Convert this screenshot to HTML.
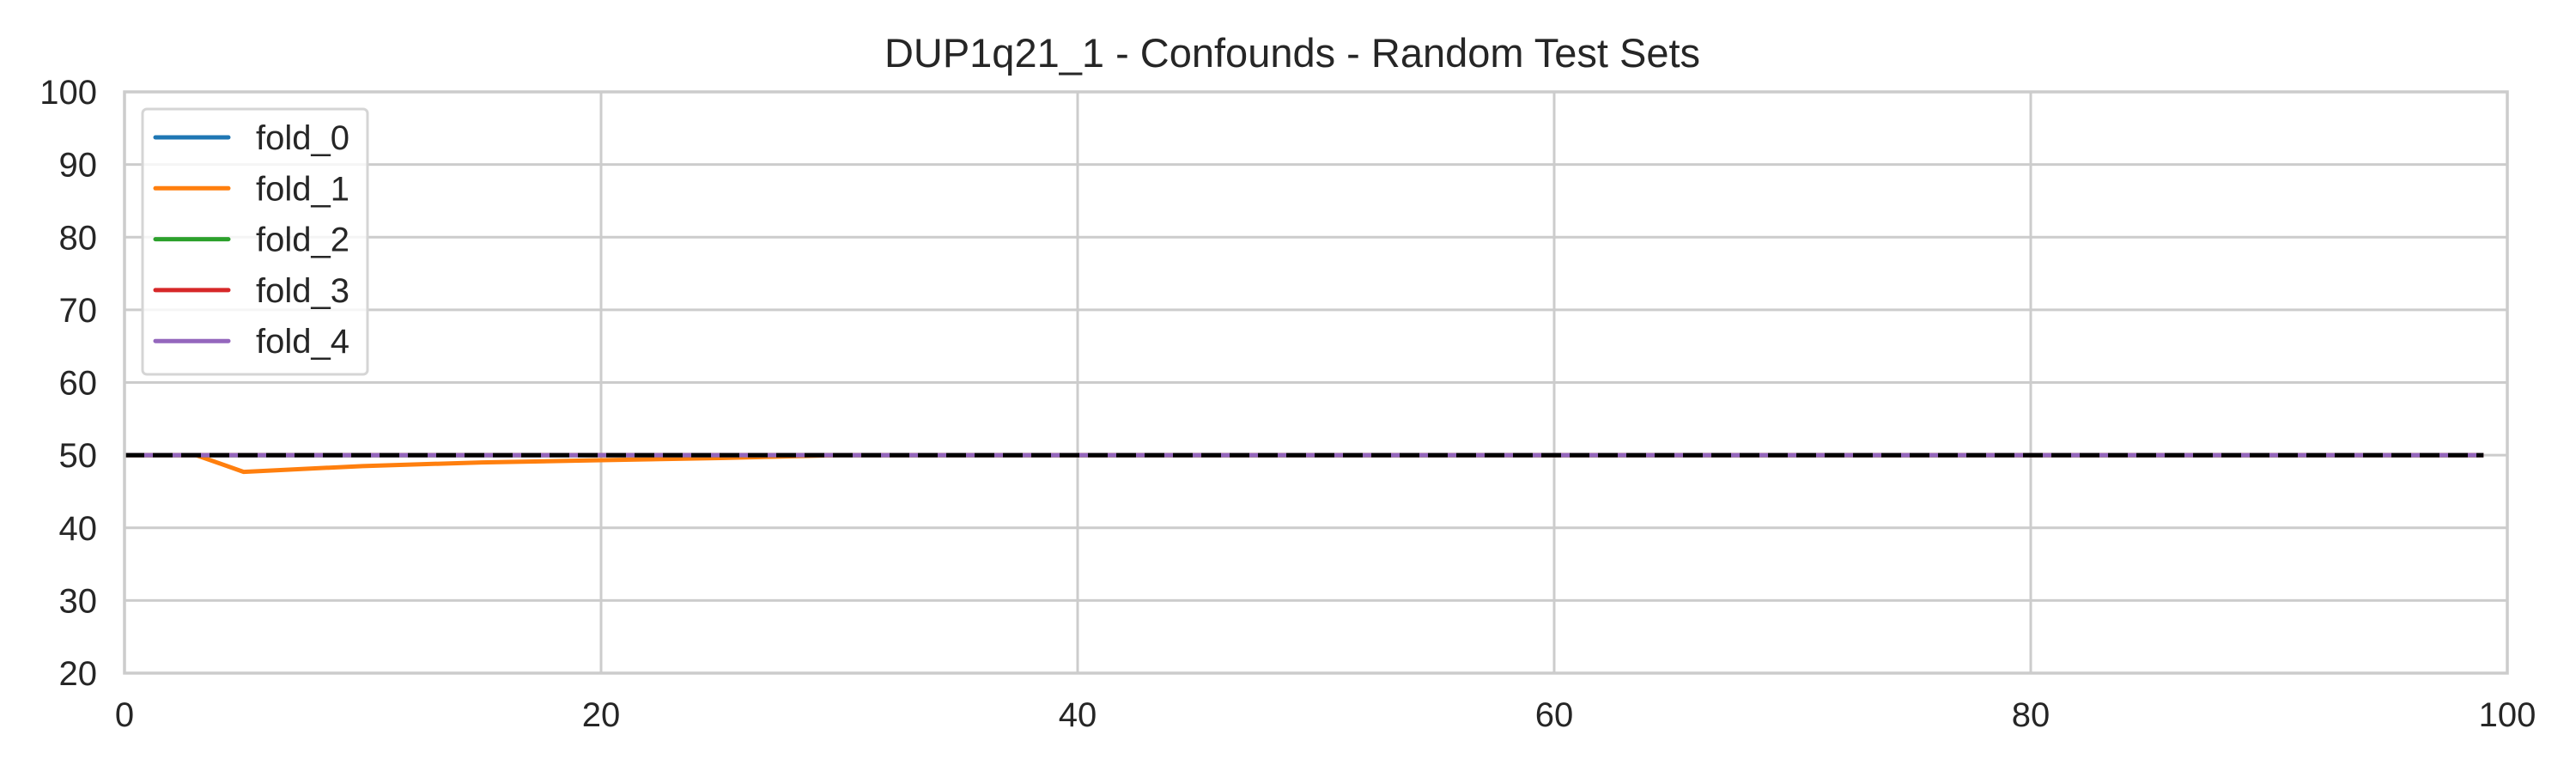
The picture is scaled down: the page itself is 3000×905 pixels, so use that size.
<!DOCTYPE html>
<html><head><meta charset="utf-8"><style>
html,body{margin:0;padding:0;background:#fff;}
svg text{font-family:"Liberation Sans",Arial,sans-serif;fill:#262626;}
</style></head><body>
<svg id="chart" width="3000" height="900" viewBox="0 0 3000 900" xmlns="http://www.w3.org/2000/svg">
<rect width="3000" height="900" fill="#fff"/>
<text x="1505" y="78" font-size="47" text-anchor="middle">DUP1q21_1 - Confounds - Random Test Sets</text>
<g id="grid"></g><g id="ticks"></g><g id="series"></g>
<rect x="145" y="107" width="2775" height="677" fill="none" stroke="#cccccc" stroke-width="3.5"/>
<g id="legend"></g>
</svg>
<script>
const xTicks=[0,20,40,60,80,100];
const yTicks=[20,30,40,50,60,70,80,90,100];
const seriesNames=["fold_0","fold_1","fold_2","fold_3","fold_4"];
const seriesColors=["#1f77b4","#ff7f0e","#2ca02c","#d62728","#9467bd"];
const fold0X=[0,99], fold0Y=[50,50];
const fold1X=[0,3,5,10,15,20,25,30,99], fold1Y=[50,50,47.7,48.5,49.0,49.3,49.6,50,50];
const fold2X=[0,99], fold2Y=[50,50];
const fold3X=[0,99], fold3Y=[50,50];
const fold4X=[0,99], fold4Y=[50,50];
const chanceX=[0,99], chanceY=[50,50];
const NS="http://www.w3.org/2000/svg";
const L=145,R=2920,T=107,B=784;
const sx=v=>L+(v-0)/(100-0)*(R-L);
const sy=v=>B-(v-20)/(100-20)*(B-T);
function mk(tag,attrs,parent){const e=document.createElementNS(NS,tag);for(const k in attrs)e.setAttribute(k,attrs[k]);parent.appendChild(e);return e;}
const grid=document.getElementById('grid'),ticks=document.getElementById('ticks'),ser=document.getElementById('series'),leg=document.getElementById('legend');
xTicks.forEach(t=>{
 const g=mk('line',{x1:sx(t),x2:sx(t),y1:T,y2:B,stroke:'#cccccc','stroke-width':3},grid);
 
 
 const tx=mk('text',{x:sx(t),y:846,'font-size':40,'text-anchor':'middle'},ticks);tx.textContent=t;
 
 
});
yTicks.forEach(t=>{
 const g=mk('line',{x1:L,x2:R,y1:sy(t),y2:sy(t),stroke:'#cccccc','stroke-width':3},grid);
 
 
 const tx=mk('text',{x:113,y:sy(t)+14,'font-size':40,'text-anchor':'end'},ticks);tx.textContent=t;
 
 
});
const allX=[fold0X,fold1X,fold2X,fold3X,fold4X],allY=[fold0Y,fold1Y,fold2Y,fold3Y,fold4Y];
allX.forEach((xs,i)=>{
 const pts=xs.map((x,j)=>sx(x)+','+sy(allY[i][j])).join(' ');
 const p=mk('polyline',{points:pts,fill:'none',stroke:seriesColors[i],'stroke-width':5,'stroke-linejoin':'round'},ser);
 
 
});
const ch=mk('polyline',{points:chanceX.map((x,j)=>sx(x)+','+sy(chanceY[j])).join(' '),fill:'none',stroke:'#000','stroke-width':5,'stroke-dasharray':'23 10'},ser);


const box=mk('rect',{x:166,y:127,width:262,height:309,rx:5,fill:'#fff','fill-opacity':0.8,stroke:'#d5d5d5','stroke-width':3},leg);


seriesNames.forEach((n,i)=>{
 const y=160+i*59.3;
 const g=mk('g',{},leg);
 
 
 mk('line',{x1:181,x2:266,y1:y,y2:y,stroke:seriesColors[i],'stroke-width':5,'stroke-linecap':'round'},g);
 const t=mk('text',{x:298,y:y+14,'font-size':40},g);t.textContent=n;
});
</script>
</body></html>
